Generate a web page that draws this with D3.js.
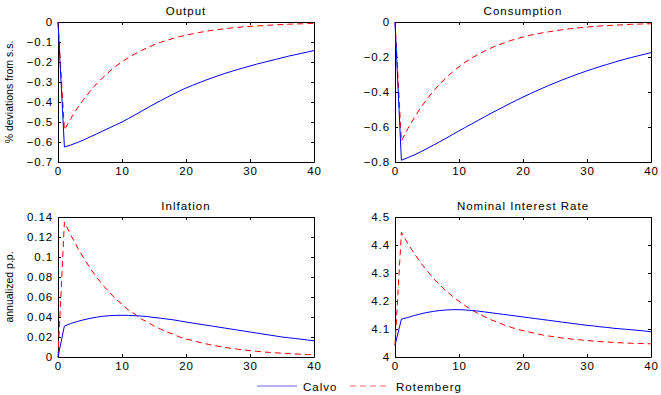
<!DOCTYPE html>
<html>
<head>
<meta charset="utf-8">
<script src="https://cdn.jsdelivr.net/npm/d3@7"></script>
<style>
  body { margin: 0; background: #fff; }
  svg { display: block; font-family: "Liberation Sans", Arial, sans-serif; }
  .tick text { font-size: 11.5px; fill: #000; letter-spacing: 0.9px; }
  .domain { stroke: #000; }
  .wide { letter-spacing: 1px; }
</style>
</head>
<body>
<svg id="chart" width="661" height="395"></svg>
<script>
// quarters after the shock
const periods = d3.range(0, 41);

const outputCalvo = [0, -0.625, -0.615, -0.603, -0.59, -0.575, -0.56, -0.545, -0.53, -0.515, -0.5,
  -0.483, -0.465, -0.447, -0.429, -0.411, -0.394, -0.377, -0.361, -0.345, -0.33,
  -0.317, -0.304, -0.292, -0.28, -0.269, -0.258, -0.248, -0.238, -0.229, -0.22,
  -0.211, -0.203, -0.195, -0.187, -0.179, -0.171, -0.164, -0.157, -0.15, -0.143];
const outputRotemberg = [0, -0.54, -0.483, -0.432, -0.387, -0.347, -0.31, -0.278, -0.249, -0.222, -0.199,
  -0.178, -0.16, -0.143, -0.128, -0.114, -0.102, -0.092, -0.082, -0.073, -0.066,
  -0.059, -0.053, -0.047, -0.042, -0.038, -0.034, -0.03, -0.027, -0.024, -0.022,
  -0.02, -0.018, -0.016, -0.014, -0.013, -0.011, -0.01, -0.009, -0.008, -0.007];

const consCalvo = [0, -0.79, -0.775, -0.76, -0.742, -0.723, -0.704, -0.684, -0.664, -0.643, -0.622,
  -0.602, -0.582, -0.562, -0.542, -0.522, -0.503, -0.484, -0.465, -0.447, -0.429,
  -0.412, -0.395, -0.379, -0.363, -0.348, -0.333, -0.319, -0.305, -0.292, -0.279,
  -0.267, -0.255, -0.244, -0.233, -0.222, -0.212, -0.202, -0.193, -0.184, -0.175];
const consRotemberg = [0, -0.68, -0.61, -0.547, -0.491, -0.44, -0.395, -0.354, -0.318, -0.285, -0.256,
  -0.229, -0.206, -0.185, -0.166, -0.149, -0.133, -0.12, -0.107, -0.096, -0.086,
  -0.077, -0.069, -0.062, -0.056, -0.05, -0.045, -0.04, -0.036, -0.032, -0.029,
  -0.026, -0.023, -0.021, -0.019, -0.017, -0.015, -0.013, -0.012, -0.011, -0.01];

const inflCalvo = [0, 0.031, 0.0335, 0.0355, 0.0372, 0.0386, 0.0398, 0.0407, 0.0413, 0.0416, 0.0417,
  0.0416, 0.0413, 0.0409, 0.0404, 0.0395, 0.0388, 0.038, 0.0372, 0.0361, 0.035,
  0.034, 0.033, 0.032, 0.031, 0.03, 0.029, 0.028, 0.027, 0.026, 0.025,
  0.024, 0.023, 0.022, 0.021, 0.02, 0.0193, 0.0185, 0.0178, 0.017, 0.0162];
const inflRotemberg = [0, 0.135, 0.122, 0.11, 0.099, 0.089, 0.08, 0.072, 0.065, 0.058, 0.053,
  0.047, 0.043, 0.038, 0.035, 0.031, 0.028, 0.025, 0.023, 0.02, 0.018,
  0.0165, 0.0148, 0.0133, 0.012, 0.0108, 0.0097, 0.0087, 0.0079, 0.0071, 0.0064,
  0.0057, 0.0052, 0.0046, 0.0042, 0.0038, 0.0034, 0.0031, 0.0027, 0.0025, 0.0022];

const rateCalvo = [4.042, 4.135, 4.141, 4.148, 4.154, 4.159, 4.163, 4.166, 4.168, 4.169, 4.169,
  4.168, 4.166, 4.164, 4.161, 4.158, 4.155, 4.152, 4.149, 4.146, 4.143,
  4.14, 4.137, 4.134, 4.131, 4.128, 4.125, 4.122, 4.119, 4.116, 4.113,
  4.111, 4.108, 4.106, 4.103, 4.101, 4.099, 4.097, 4.095, 4.093, 4.09];
const rateRotemberg = [4.042, 4.445, 4.405, 4.37, 4.337, 4.308, 4.281, 4.257, 4.236, 4.216, 4.199,
  4.183, 4.168, 4.155, 4.144, 4.133, 4.124, 4.115, 4.107, 4.1, 4.094,
  4.089, 4.084, 4.079, 4.075, 4.072, 4.068, 4.066, 4.063, 4.061, 4.059,
  4.057, 4.055, 4.054, 4.052, 4.051, 4.05, 4.049, 4.048, 4.048, 4.047];

const xTicks = [0, 10, 20, 30, 40];
const outputTicks = [0, -0.1, -0.2, -0.3, -0.4, -0.5, -0.6, -0.7];
const consTicks = [0, -0.2, -0.4, -0.6, -0.8];
const inflTicks = [0, 0.02, 0.04, 0.06, 0.08, 0.1, 0.12, 0.14];
const rateTicks = [4, 4.1, 4.2, 4.3, 4.4, 4.5];

const seriesNames = ["Calvo", "Rotemberg"];
const colors = { Calvo: "#0000ff", Rotemberg: "#ff0000" };
const dashes = { Calvo: null, Rotemberg: "6,4" };

const panels = [
  { title: "Output", ylabel: "% deviations from s.s.", x0: 58, y0: 22, dom: [-0.7, 0], ticks: outputTicks,
    series: { Calvo: outputCalvo, Rotemberg: outputRotemberg } },
  { title: "Consumption", ylabel: null, x0: 395, y0: 22, dom: [-0.8, 0], ticks: consTicks,
    series: { Calvo: consCalvo, Rotemberg: consRotemberg } },
  { title: "Inlfation", ylabel: "annualized p.p.", x0: 58, y0: 217, dom: [0, 0.14], ticks: inflTicks,
    series: { Calvo: inflCalvo, Rotemberg: inflRotemberg } },
  { title: "Nominal Interest Rate", ylabel: null, x0: 395, y0: 217, dom: [4, 4.5], ticks: rateTicks,
    series: { Calvo: rateCalvo, Rotemberg: rateRotemberg } }
];

const pw = 256, ph = 140;
const svg = d3.select("#chart");
const fmt = d => d3.format("")(+d.toFixed(3)).replace("-", "\u2212");

panels.forEach(p => {
  const g = svg.append("g").attr("transform", `translate(${p.x0},${p.y0})`);
  const x = d3.scaleLinear().domain([0, 40]).range([0, pw]);
  const y = d3.scaleLinear().domain(p.dom).range([ph, 0]);

  g.append("rect").attr("width", pw).attr("height", ph).attr("fill", "#fff");

  // matlab style box with inward ticks on all sides
  g.append("g").attr("transform", `translate(0,${ph})`)
    .call(d3.axisBottom(x).tickValues(xTicks).tickSizeInner(-3).tickSizeOuter(0).tickPadding(5).tickFormat(fmt));
  g.append("g")
    .call(d3.axisTop(x).tickValues(xTicks).tickSizeInner(-3).tickSizeOuter(0).tickFormat(""));
  g.append("g")
    .call(d3.axisLeft(y).tickValues(p.ticks).tickSizeInner(-3).tickSizeOuter(0).tickPadding(5).tickFormat(fmt));
  g.append("g").attr("transform", `translate(${pw},0)`)
    .call(d3.axisRight(y).tickValues(p.ticks).tickSizeInner(-3).tickSizeOuter(0).tickFormat(""));

  const line = d3.line().x((d, i) => x(periods[i])).y(d => y(d));
  seriesNames.slice().reverse().forEach(name => {
    g.append("path")
      .datum(p.series[name])
      .attr("d", line)
      .attr("fill", "none")
      .attr("stroke", colors[name])
      .attr("stroke-width", 1)
      .attr("stroke-dasharray", dashes[name]);
  });

  g.append("text").attr("class", "wide").attr("x", pw / 2).attr("y", -7)
    .attr("text-anchor", "middle").attr("font-size", 11.5).text(p.title);

  if (p.ylabel) {
    g.append("text")
      .attr("transform", `translate(${-45},${ph / 2}) rotate(-90)`)
      .attr("text-anchor", "middle").attr("font-size", 10.5).text(p.ylabel);
  }
});

// legend (kept just inside the bottom edge)
const legend = svg.append("g").attr("transform", "translate(257,386)");
const legendPos = { Calvo: 0, Rotemberg: 93 };
seriesNames.forEach(name => {
  const lg = legend.append("g").attr("transform", `translate(${legendPos[name]},0)`);
  lg.append("line").attr("x1", 0).attr("x2", 40).attr("y1", 0).attr("y2", 0)
    .attr("stroke", colors[name]).attr("stroke-opacity", 0.6).attr("stroke-dasharray", dashes[name]);
  lg.append("text").attr("class", "wide").attr("x", 46).attr("y", 4.5).attr("font-size", 11.5).text(name);
});
</script>
</body>
</html>
